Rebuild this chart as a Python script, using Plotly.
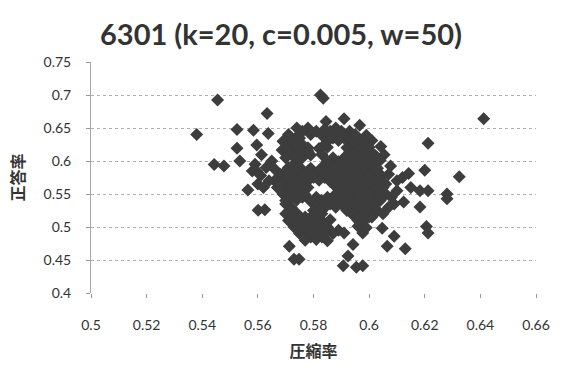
import plotly.graph_objects as go

title_text = "6301 (k=20, c=0.005, w=50)"
x_title = "圧縮率"
y_title = "正答率"

# Isolated points (compression rate, accuracy)
outliers = [
    (0.5455, 0.6926), (0.5825, 0.700), (0.5835, 0.695), (0.5633, 0.672),
    (0.538, 0.640), (0.5525, 0.6476), (0.5584, 0.6466), (0.5637, 0.6417),
    (0.5845, 0.660), (0.591, 0.664), (0.5966, 0.654), (0.5525, 0.6194),
    (0.5596, 0.6243), (0.5613, 0.6095), (0.5687, 0.6165), (0.5535, 0.600),
    (0.5443, 0.5947), (0.5478, 0.5923), (0.5564, 0.556), (0.6412, 0.664),
    (0.6212, 0.627), (0.6042, 0.622), (0.6054, 0.6095), (0.6077, 0.5923),
    (0.620, 0.5858), (0.6324, 0.576), (0.6142, 0.581), (0.610, 0.570),
    (0.6183, 0.555), (0.6212, 0.555), (0.628, 0.550), (0.628, 0.5427),
    (0.6183, 0.5304), (0.6206, 0.5007), (0.6212, 0.491), (0.613, 0.467),
    (0.6065, 0.471), (0.609, 0.486), (0.5977, 0.491), (0.5907, 0.4414),
    (0.5954, 0.439), (0.5977, 0.4414), (0.6047, 0.498), (0.6124, 0.538),
    (0.5601, 0.5255), (0.5625, 0.526), (0.5713, 0.471), (0.573, 0.4513),
    (0.5748, 0.4513), (0.5924, 0.4562), (0.5942, 0.4736), (0.5596, 0.585),
]

# Dense central cloud
cluster = [
    (0.574, 0.650), (0.578, 0.650), (0.584, 0.648), (0.588, 0.650),
    (0.576, 0.645), (0.581, 0.645), (0.586, 0.645), (0.590, 0.645), (0.593, 0.645),
    (0.571, 0.640), (0.575, 0.641), (0.579, 0.640), (0.583, 0.639), (0.587, 0.640),
    (0.591, 0.641), (0.595, 0.640), (0.599, 0.639),
    (0.571, 0.635), (0.575, 0.635), (0.587, 0.635), (0.591, 0.635),
    (0.595, 0.635), (0.599, 0.635),
    (0.569, 0.630), (0.573, 0.631), (0.585, 0.630), (0.589, 0.631),
    (0.593, 0.630), (0.597, 0.629), (0.601, 0.631),
    (0.572, 0.625), (0.576, 0.625), (0.584, 0.625), (0.594, 0.625),
    (0.598, 0.625),
    (0.570, 0.620), (0.574, 0.621), (0.578, 0.620), (0.582, 0.619), (0.585, 0.621),
    (0.592, 0.620), (0.596, 0.619), (0.600, 0.621),
    (0.574, 0.615), (0.578, 0.615), (0.593, 0.615), (0.596, 0.615),
    (0.600, 0.615),
    (0.572, 0.610), (0.576, 0.611), (0.579, 0.609), (0.583, 0.610), (0.594, 0.610),
    (0.598, 0.611), (0.602, 0.609),
    (0.570, 0.605), (0.576, 0.605), (0.587, 0.605), (0.591, 0.605), (0.595, 0.605),
    (0.599, 0.605), (0.603, 0.605),
    (0.574, 0.600), (0.585, 0.600), (0.589, 0.599), (0.593, 0.601),
    (0.597, 0.600), (0.601, 0.599), (0.604, 0.601),
    (0.573, 0.595), (0.586, 0.595), (0.589, 0.595), (0.593, 0.595),
    (0.597, 0.595), (0.601, 0.595),
    (0.571, 0.590), (0.575, 0.591), (0.579, 0.589), (0.583, 0.590), (0.587, 0.591),
    (0.591, 0.589), (0.595, 0.590), (0.599, 0.591), (0.603, 0.589),
    (0.570, 0.585), (0.574, 0.585), (0.578, 0.585), (0.582, 0.585), (0.586, 0.585),
    (0.590, 0.585), (0.594, 0.585), (0.598, 0.585), (0.602, 0.585),
    (0.568, 0.580), (0.572, 0.581), (0.576, 0.579), (0.580, 0.580), (0.584, 0.581),
    (0.588, 0.579), (0.592, 0.580), (0.596, 0.581), (0.600, 0.579), (0.604, 0.580),
    (0.568, 0.575), (0.572, 0.575), (0.576, 0.575), (0.580, 0.575), (0.584, 0.575),
    (0.588, 0.575), (0.592, 0.575), (0.596, 0.575), (0.600, 0.575), (0.604, 0.575),
    (0.566, 0.570), (0.570, 0.571), (0.574, 0.569), (0.578, 0.570), (0.582, 0.571),
    (0.586, 0.569), (0.590, 0.570), (0.594, 0.571), (0.598, 0.569), (0.602, 0.570),
    (0.569, 0.565), (0.573, 0.565), (0.577, 0.565), (0.588, 0.565),
    (0.592, 0.565), (0.596, 0.565), (0.600, 0.565), (0.604, 0.565),
    (0.567, 0.560), (0.571, 0.561), (0.575, 0.559), (0.578, 0.560), (0.588, 0.561),
    (0.590, 0.559), (0.594, 0.560), (0.598, 0.561), (0.602, 0.559), (0.605, 0.560),
    (0.571, 0.555), (0.575, 0.555), (0.590, 0.555), (0.594, 0.555),
    (0.598, 0.555), (0.602, 0.555),
    (0.569, 0.550), (0.573, 0.551), (0.577, 0.549), (0.588, 0.550), (0.592, 0.551),
    (0.596, 0.549), (0.600, 0.550), (0.604, 0.551),
    (0.572, 0.545), (0.576, 0.545), (0.581, 0.545), (0.585, 0.545), (0.589, 0.545),
    (0.593, 0.545), (0.597, 0.545), (0.601, 0.545),
    (0.570, 0.540), (0.574, 0.541), (0.579, 0.539), (0.583, 0.540), (0.587, 0.541),
    (0.591, 0.539), (0.595, 0.540), (0.599, 0.541), (0.603, 0.539),
    (0.570, 0.535), (0.582, 0.535), (0.586, 0.535), (0.590, 0.535), (0.594, 0.535),
    (0.598, 0.535), (0.602, 0.535),
    (0.572, 0.530), (0.581, 0.531), (0.584, 0.529), (0.588, 0.530), (0.592, 0.531),
    (0.596, 0.529), (0.600, 0.530),
    (0.572, 0.525), (0.580, 0.525), (0.583, 0.525), (0.592, 0.525), (0.596, 0.525),
    (0.600, 0.525),
    (0.570, 0.520), (0.574, 0.521), (0.580, 0.519), (0.583, 0.520),
    (0.594, 0.519), (0.598, 0.520), (0.602, 0.521),
    (0.573, 0.515), (0.577, 0.515), (0.581, 0.515), (0.596, 0.515), (0.600, 0.515),
    (0.571, 0.510), (0.575, 0.511), (0.579, 0.509), (0.583, 0.510), (0.586, 0.511),
    (0.596, 0.510), (0.598, 0.509),
    (0.575, 0.505), (0.579, 0.505), (0.583, 0.505), (0.597, 0.505),
    (0.573, 0.500), (0.577, 0.501), (0.581, 0.499), (0.585, 0.500), (0.596, 0.501),
    (0.599, 0.499),
    (0.577, 0.495), (0.581, 0.495), (0.585, 0.495), (0.589, 0.495),
    (0.575, 0.490), (0.579, 0.491), (0.583, 0.489), (0.587, 0.490), (0.591, 0.491),
    (0.579, 0.485), (0.583, 0.485),
    (0.577, 0.480), (0.581, 0.481), (0.585, 0.479),
]

# Edges of the cloud
cluster_edges = [
    (0.558, 0.585), (0.561, 0.578), (0.563, 0.590), (0.560, 0.565), (0.564, 0.570),
    (0.562, 0.560), (0.565, 0.600), (0.566, 0.588), (0.559, 0.595),
    (0.612, 0.575), (0.615, 0.560), (0.610, 0.555), (0.606, 0.565), (0.607, 0.580),
    (0.606, 0.550), (0.604, 0.540), (0.607, 0.530), (0.603, 0.525), (0.608, 0.545),
    (0.601, 0.515), (0.605, 0.520), (0.609, 0.535),
]

points = outliers + cluster + cluster_edges
compression = [p[0] for p in points]
accuracy = [p[1] for p in points]

x_ticks = [0.5, 0.52, 0.54, 0.56, 0.58, 0.6, 0.62, 0.64, 0.66]
y_ticks = [0.4, 0.45, 0.5, 0.55, 0.6, 0.65, 0.7, 0.75]

fig = go.Figure()
fig.add_trace(go.Scatter(
    x=compression, y=accuracy, mode="markers",
    marker=dict(symbol="diamond", size=10, color="#3d3d3d", line=dict(width=0)),
    showlegend=False, hoverinfo="skip",
))

tick_font = dict(family="Lato, Open Sans, sans-serif", size=14, color="#333333")
title_font = dict(family="Noto Sans CJK JP", size=16, color="#333333")
fig.update_layout(
    width=562, height=370,
    margin=dict(l=91, r=17, t=62, b=72),
    paper_bgcolor="white", plot_bgcolor="white",
    title=dict(text="<b>" + title_text + "</b>", x=0.5, xanchor="center",
               y=0.905, yanchor="middle",
               font=dict(family="Lato, Open Sans, sans-serif", size=29, color="#333333")),
    xaxis=dict(range=[0.5, 0.66], tickvals=x_ticks, ticktext=[f"{v:g}" for v in x_ticks],
               showgrid=False, zeroline=False, showline=False,
               ticks="outside", ticklen=4, tickcolor="#999999",
               ticklabelstandoff=15, tickfont=tick_font,
               title=dict(text="<b>" + x_title + "</b>", standoff=14, font=title_font)),
    yaxis=dict(range=[0.4, 0.75], tickvals=y_ticks, ticktext=[f"{v:g}" for v in y_ticks],
               showgrid=True, gridcolor="#b0b0b0", griddash="dot", gridwidth=1,
               zeroline=False, showline=True, linecolor="#a8a8a8", linewidth=1,
               ticks="outside", ticklen=4, tickcolor="#999999",
               ticklabelstandoff=12, tickfont=tick_font,
               title=dict(text="<b>" + y_title + "</b>", standoff=14, font=title_font)),
)

fig.write_html("out.html")
